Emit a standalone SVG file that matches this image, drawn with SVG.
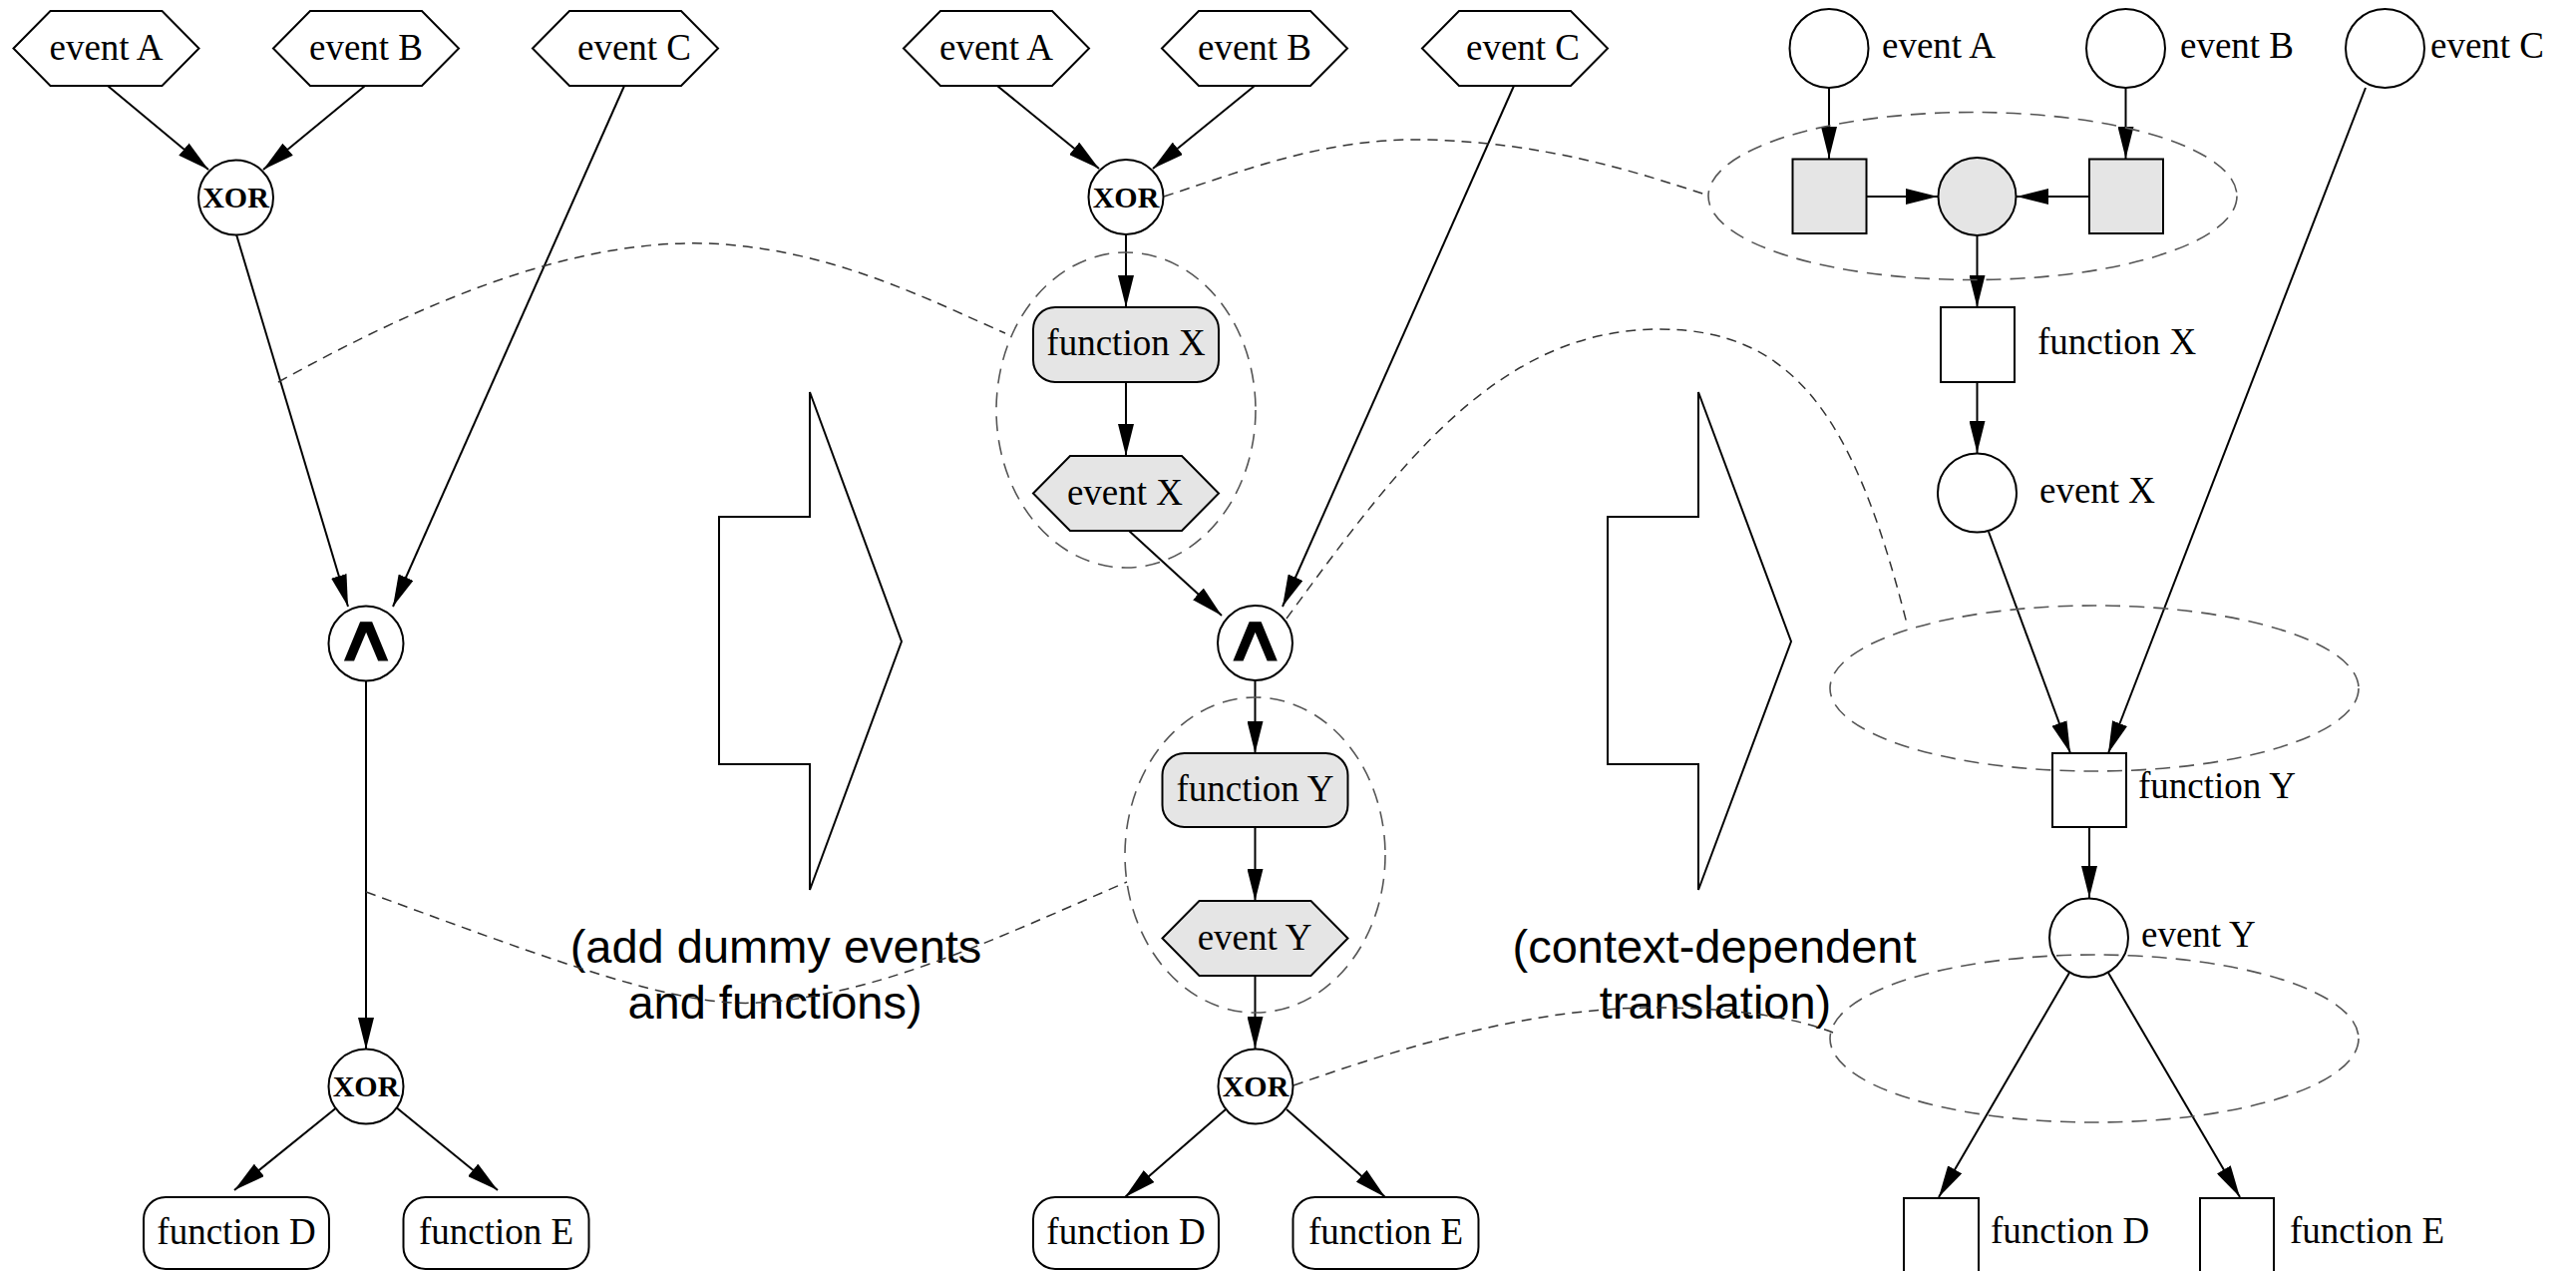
<svg xmlns="http://www.w3.org/2000/svg" xmlns:xlink="http://www.w3.org/1999/xlink" width="2583" height="1274" viewBox="0 0 2583 1274">
<style>
.bg{fill:#ffffff}
.shape{fill:#ffffff;stroke:#000;stroke-width:2}
.gray{fill:#e5e5e5;stroke:#000;stroke-width:2}
.open{fill:none;stroke:#000;stroke-width:2}
.edge{fill:none;stroke:#000;stroke-width:2;marker-end:url(#ah)}
.hl{fill:none;stroke:#555;stroke-width:1.6;stroke-dasharray:15 9}
.link{fill:none;stroke:#333;stroke-width:1.5;stroke-dasharray:10 7}
.lbl{font-family:"Liberation Serif","Times New Roman",serif;font-size:37px;fill:#000}
.mid{text-anchor:middle}
.xor{font-family:"Liberation Serif","Times New Roman",serif;font-size:30px;font-weight:bold;text-anchor:middle;fill:#000}
.and{font-family:"DejaVu Sans","Liberation Sans",sans-serif;font-size:66px;font-weight:normal;text-anchor:middle;fill:#000;stroke:#000;stroke-width:1.2}
.cap{font-family:"Liberation Sans",Arial,sans-serif;font-size:47px;text-anchor:middle;fill:#000}
</style>
<defs>
<marker id="ah" viewBox="0 0 32 16" refX="32" refY="8" markerWidth="32" markerHeight="16" markerUnits="userSpaceOnUse" orient="auto">
<path d="M0,0 L32,8 L0,16 z" fill="#000"/>
</marker>
<polygon id="hex" points="-93,0 -56,-37.5 56,-37.5 93,0 56,37.5 -56,37.5"/>
</defs>
<rect class="bg" x="0" y="0" width="2583" height="1274"/>

<!-- block arrows -->
<g id="step1-arrow">
<polygon class="shape" points="721,518 812,518 812,393 904,643 812,892 812,766 721,766"/>
<text class="cap" x="778" y="965">(add dummy events</text>
<text class="cap" x="777" y="1021">and functions)</text>
</g>
<g id="step2-arrow">
<polygon class="shape" points="1612,518 1703,518 1703,393 1796,643 1703,892 1703,766 1612,766"/>
<text class="cap" x="1719" y="965">(context-dependent</text>
<text class="cap" x="1720" y="1021">translation)</text>
</g>

<!-- connectors -->
<g id="connectors">
<!-- left -->
<line class="edge" x1="108" y1="86" x2="209" y2="170"/>
<line class="edge" x1="366" y1="86" x2="264" y2="170"/>
<line class="edge" x1="237" y1="235" x2="349" y2="608"/>
<line class="edge" x1="626" y1="86" x2="394" y2="608"/>
<line class="edge" x1="367" y1="682" x2="367" y2="1052"/>
<line class="edge" x1="339" y1="1109" x2="235" y2="1193"/>
<line class="edge" x1="396" y1="1109" x2="499" y2="1193"/>
<!-- middle -->
<line class="edge" x1="1000" y1="86" x2="1102" y2="169"/>
<line class="edge" x1="1258" y1="86" x2="1156" y2="169"/>
<line class="edge" x1="1129" y1="235" x2="1129" y2="308"/>
<line class="edge" x1="1129" y1="383" x2="1129" y2="457"/>
<line class="edge" x1="1132" y1="532" x2="1225" y2="617"/>
<line class="edge" x1="1518" y1="86" x2="1286" y2="608"/>
<line class="edge" x1="1258.5" y1="682" x2="1258.5" y2="755"/>
<line class="edge" x1="1258.5" y1="829" x2="1258.5" y2="903"/>
<line class="edge" x1="1258.5" y1="978" x2="1258.5" y2="1051"/>
<line class="edge" x1="1229" y1="1112" x2="1128" y2="1200"/>
<line class="edge" x1="1290" y1="1112" x2="1389" y2="1200"/>
<!-- right -->
<line class="edge" x1="1834" y1="88" x2="1834" y2="159"/>
<line class="edge" x1="2131.5" y1="88" x2="2131.5" y2="159"/>
<line class="edge" x1="1872" y1="197" x2="1943" y2="197"/>
<line class="edge" x1="2095" y1="197" x2="2022" y2="197"/>
<line class="edge" x1="1982.5" y1="236" x2="1982.5" y2="308"/>
<line class="edge" x1="1982.5" y1="383" x2="1982.5" y2="454"/>
<line class="edge" x1="1994" y1="533" x2="2076" y2="755"/>
<line class="edge" x1="2372" y1="88" x2="2114" y2="755"/>
<line class="edge" x1="2095" y1="829" x2="2095" y2="900"/>
<line class="edge" x1="2075" y1="975" x2="1944" y2="1200"/>
<line class="edge" x1="2114" y1="975" x2="2246" y2="1200"/>
</g>

<!-- left column nodes -->
<g id="L-eventA"><use xlink:href="#hex" class="shape" x="106.5" y="48.5"/><text class="lbl mid" x="106.5" y="59.5">event A</text></g>
<g id="L-eventB"><use xlink:href="#hex" class="shape" x="367" y="48.5"/><text class="lbl mid" x="367" y="59.5">event B</text></g>
<g id="L-eventC"><use xlink:href="#hex" class="shape" x="627" y="48.5"/><text class="lbl mid" x="636" y="59.5">event C</text></g>
<g id="L-xor1"><circle class="shape" cx="236.5" cy="198" r="37.5"/><text class="xor" x="236.5" y="208">XOR</text></g>
<g id="L-and"><circle class="shape" cx="367" cy="645" r="37.5"/><text class="and" transform="translate(367,662) scale(1.35,1)" x="0" y="0">∧</text></g>
<g id="L-xor2"><circle class="shape" cx="367" cy="1089" r="37.5"/><text class="xor" x="367" y="1099">XOR</text></g>
<g id="L-funcD"><rect class="shape" x="144" y="1200" width="186" height="72" rx="22"/><text class="lbl mid" x="237" y="1247">function D</text></g>
<g id="L-funcE"><rect class="shape" x="404.5" y="1200" width="186" height="72" rx="22"/><text class="lbl mid" x="497.5" y="1247">function E</text></g>

<!-- middle column nodes -->
<g id="M-eventA"><use xlink:href="#hex" class="shape" x="999" y="48.5"/><text class="lbl mid" x="999" y="59.5">event A</text></g>
<g id="M-eventB"><use xlink:href="#hex" class="shape" x="1258" y="48.5"/><text class="lbl mid" x="1258" y="59.5">event B</text></g>
<g id="M-eventC"><use xlink:href="#hex" class="shape" x="1519" y="48.5"/><text class="lbl mid" x="1527" y="59.5">event C</text></g>
<g id="M-xor1"><circle class="shape" cx="1129" cy="197.5" r="37.5"/><text class="xor" x="1129" y="207.5">XOR</text></g>
<g id="M-funcX"><rect class="gray" x="1036" y="308" width="186" height="75" rx="22"/><text class="lbl mid" x="1129" y="356">function X</text></g>
<g id="M-eventX"><use xlink:href="#hex" class="gray" x="1129" y="494.5"/><text class="lbl mid" x="1128" y="506">event X</text></g>
<g id="M-and"><circle class="shape" cx="1258.5" cy="644.5" r="37.5"/><text class="and" transform="translate(1258.5,661.5) scale(1.35,1)" x="0" y="0">∧</text></g>
<g id="M-funcY"><rect class="gray" x="1165.5" y="755" width="186" height="74" rx="22"/><text class="lbl mid" x="1258.5" y="803">function Y</text></g>
<g id="M-eventY"><use xlink:href="#hex" class="gray" x="1258.5" y="940.5"/><text class="lbl mid" x="1258" y="952">event Y</text></g>
<g id="M-xor2"><circle class="shape" cx="1259" cy="1089" r="37.5"/><text class="xor" x="1259" y="1099">XOR</text></g>
<g id="M-funcD"><rect class="shape" x="1036" y="1200" width="186" height="72" rx="22"/><text class="lbl mid" x="1129" y="1247">function D</text></g>
<g id="M-funcE"><rect class="shape" x="1296.5" y="1200" width="186" height="72" rx="22"/><text class="lbl mid" x="1389.5" y="1247">function E</text></g>

<!-- right column nodes -->
<g id="R-eventA"><circle class="shape" cx="1834" cy="48.5" r="39.5"/><text class="lbl" x="1887" y="58">event A</text></g>
<g id="R-eventB"><circle class="shape" cx="2131.5" cy="48.5" r="39.5"/><text class="lbl" x="2186" y="58">event B</text></g>
<g id="R-eventC"><circle class="shape" cx="2391.5" cy="48.5" r="39.5"/><text class="lbl" x="2437" y="58">event C</text></g>
<g id="R-dummyF1"><rect class="gray" x="1797.5" y="159.5" width="74" height="74.5"/></g>
<g id="R-dummyE"><circle class="gray" cx="1982.5" cy="197" r="39"/></g>
<g id="R-dummyF2"><rect class="gray" x="2095" y="159.5" width="74" height="74.5"/></g>
<g id="R-funcX"><rect class="shape" x="1946" y="308" width="74" height="75"/><text class="lbl" x="2043" y="355">function X</text></g>
<g id="R-eventX"><circle class="shape" cx="1982.5" cy="494" r="39.5"/><text class="lbl" x="2045" y="504">event X</text></g>
<g id="R-funcY"><rect class="open" x="2058" y="755" width="74" height="74"/><text class="lbl" x="2144" y="800">function Y</text></g>
<g id="R-eventY"><circle class="open" cx="2094.5" cy="940" r="39.5"/><text class="lbl" x="2147" y="949">event Y</text></g>
<g id="R-funcD"><rect class="shape" x="1909" y="1201" width="75" height="80"/><text class="lbl" x="1996" y="1246">function D</text></g>
<g id="R-funcE"><rect class="shape" x="2206" y="1201" width="74" height="80"/><text class="lbl" x="2296" y="1246">function E</text></g>

<!-- correspondence highlights -->
<g id="highlights">
<ellipse class="hl" cx="1129" cy="411" rx="130" ry="158"/>
<ellipse class="hl" cx="1258.5" cy="857" rx="130.5" ry="158"/>
<ellipse class="hl" cx="1978" cy="196.5" rx="265" ry="84"/>
<ellipse class="hl" cx="2100" cy="690" rx="265" ry="83"/>
<ellipse class="hl" cx="2100" cy="1041" rx="265" ry="84"/>
<path class="link" d="M279,383 C420,305 570,240 708,244 C830,248 930,300 1008,334"/>
<path class="link" d="M367,894 C560,965 680,1010 760,1005 C880,998 1000,940 1130,884"/>
<path class="link" d="M1167,197 C1250,170 1330,138 1430,140 C1550,143 1640,172 1713,196"/>
<path class="link" d="M1290,620 C1400,470 1500,330 1664,330 C1800,330 1860,420 1912,625"/>
<path class="link" d="M1297,1088 C1420,1045 1540,1010 1660,1010 C1740,1010 1800,1020 1838,1035"/>
</g>
</svg>
